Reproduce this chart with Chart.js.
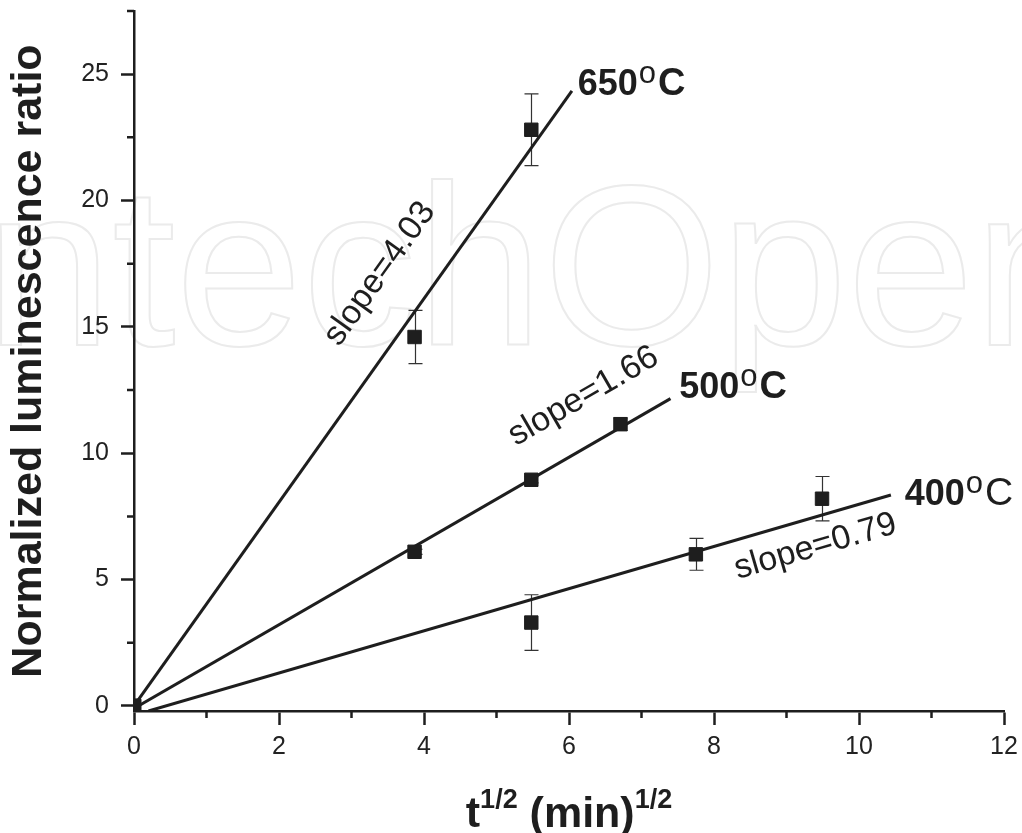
<!DOCTYPE html>
<html>
<head>
<meta charset="utf-8">
<script src="https://cdn.jsdelivr.net/npm/chart.js@4.4.1/dist/chart.umd.min.js"></script>
<style>
  html, body { margin: 0; padding: 0; background: #fff; }
  canvas { display: block; }
</style>
</head>
<body>
<canvas id="chart" width="1022" height="833"></canvas>
<script>
const FONT = "'Liberation Sans', Arial, Helvetica, sans-serif";
const INK = '#1e1e1e';

// t^1/2 in min^1/2, luminescence ratio, and +/- error per anneal temperature
const t650 = [0, 3.87, 5.48];
const r650 = [0, 14.6, 22.8];
const e650 = [0, 1.05, 1.42];

const t500 = [0, 3.87, 5.48, 6.71];
const r500 = [0, 6.1, 8.95, 11.15];
const e500 = [0, 0.1, 0.12, 0.25];

const t400 = [0, 5.48, 7.75, 9.49];
const r400 = [0, 3.3, 6.0, 8.2];
const e400 = [0, 1.1, 0.63, 0.88];

// linear fits, end points of each drawn segment
const fit650 = [[0, 0], [6.04, 24.34]];
const fit500 = [[0, -0.1], [7.4, 12.16]];
const fit400 = [[0.2, -0.2], [10.44, 8.35]];

const xMajor = [0, 2, 4, 6, 8, 10, 12];
const xMinor = [1, 3, 5, 7, 9, 11];
const yMajor = [0, 5, 10, 15, 20, 25];
const yMinor = [2.5, 7.5, 12.5, 17.5, 22.5, 27.5];

const temps = ['650', '500', '400'];
const slopes = ['slope=4.03', 'slope=1.66', 'slope=0.79'];

const pts = (xs, ys) => xs.map((x, i) => ({ x, y: ys[i] }));
const seg = f => f.map(([x, y]) => ({ x, y }));

const series = [
  { t: t650, r: r650, e: e650, fit: fit650 },
  { t: t500, r: r500, e: e500, fit: fit500 },
  { t: t400, r: r400, e: e400, fit: fit400 },
];

// where the temperature tags and slope notes sit (data units)
const tagPos = [[6.12, 24.17], [7.52, 12.2], [10.63, 7.96]];
const notePos = [[3.39, 17.1], [6.2, 12.25], [9.4, 6.3]];

const datasets = [];
series.forEach(s => {
  datasets.push({
    type: 'scatter',
    data: pts(s.t, s.r),
    order: 0,
    pointStyle: 'rect',
    pointRadius: 9.5,
    pointBackgroundColor: INK,
    pointBorderColor: INK,
    pointBorderWidth: 1,
    errors: s.e,
  });
  datasets.push({
    type: 'line',
    data: seg(s.fit),
    order: 1,
    borderColor: INK,
    borderWidth: 3,
    pointRadius: 0,
    fill: false,
  });
});

// ── background watermark ─────────────────────────────────────────────────────
const watermark = {
  id: 'watermark',
  beforeDraw(chart) {
    const ctx = chart.ctx;
    ctx.save();
    ctx.font = `228px ${FONT}`;
    ctx.strokeStyle = '#ebebeb';
    ctx.lineWidth = 2;
    ctx.strokeText('IntechOpen', -78, 345);
    ctx.restore();
  }
};

// ── error bars under the markers ─────────────────────────────────────────────
const errorBars = {
  id: 'errorBars',
  beforeDatasetsDraw(chart) {
    const { ctx, scales: { x, y } } = chart;
    ctx.save();
    ctx.strokeStyle = '#333';
    ctx.lineWidth = 1.2;
    chart.data.datasets.forEach(ds => {
      if (!ds.errors) return;
      ds.data.forEach((p, i) => {
        const err = ds.errors[i];
        if (!err) return;
        const px = Math.round(x.getPixelForValue(p.x)) + 0.5;
        const top = y.getPixelForValue(p.y + err);
        const bot = y.getPixelForValue(p.y - err);
        ctx.beginPath();
        ctx.moveTo(px, top); ctx.lineTo(px, bot);
        ctx.moveTo(px - 7, top); ctx.lineTo(px + 7, top);
        ctx.moveTo(px - 7, bot); ctx.lineTo(px + 7, bot);
        ctx.stroke();
      });
    });
    ctx.restore();
  }
};

// ── minor ticks, labels and the x title with superscripts ────────────────────
const extras = {
  id: 'extras',
  afterDraw(chart) {
    const { ctx, chartArea, scales: { x, y } } = chart;
    ctx.save();
    ctx.strokeStyle = INK;
    ctx.lineWidth = 2.5;
    ctx.beginPath();
    xMinor.forEach(v => {
      const px = x.getPixelForValue(v);
      ctx.moveTo(px, chartArea.bottom); ctx.lineTo(px, chartArea.bottom + 7);
    });
    yMinor.forEach(v => {
      const py = y.getPixelForValue(v);
      ctx.moveTo(chartArea.left, py); ctx.lineTo(chartArea.left - 7, py);
    });
    ctx.stroke();

    ctx.fillStyle = INK;
    ctx.textBaseline = 'alphabetic';
    ctx.textAlign = 'left';

    // temperature tags: number, raised "o", then C
    temps.forEach((num, i) => {
      let cx = x.getPixelForValue(tagPos[i][0]);
      const cy = y.getPixelForValue(tagPos[i][1]);
      const boldUnit = i < 2;
      ctx.font = `bold 36px ${FONT}`;
      ctx.fillText(num, cx, cy);
      cx += ctx.measureText(num).width + 1;
      ctx.font = `31px ${FONT}`;
      ctx.fillText('o', cx, cy - 12);
      cx += ctx.measureText('o').width + 2;
      ctx.font = `${boldUnit ? 'bold 38px' : '39px'} ${FONT}`;
      ctx.fillText('C', cx, cy);
    });

    // slope notes, turned along their fit lines
    ctx.font = `34px ${FONT}`;
    ctx.textAlign = 'center';
    ctx.textBaseline = 'middle';
    slopes.forEach((txt, i) => {
      const f = series[i].fit;
      const dx = x.getPixelForValue(f[1][0]) - x.getPixelForValue(f[0][0]);
      const dy = y.getPixelForValue(f[1][1]) - y.getPixelForValue(f[0][1]);
      ctx.save();
      ctx.translate(x.getPixelForValue(notePos[i][0]), y.getPixelForValue(notePos[i][1]));
      ctx.rotate(Math.atan2(dy, dx));
      ctx.fillText(txt, 0, 0);
      ctx.restore();
    });

    // x axis title: t^1/2 (min)^1/2
    const big = `bold 43px ${FONT}`, sup = `bold 27px ${FONT}`;
    const parts = [['t', big, 0], ['1/2', sup, -19], [' (min)', big, 0], ['1/2', sup, -19]];
    let w = 0;
    parts.forEach(([s, f]) => { ctx.font = f; w += ctx.measureText(s).width; });
    let tx = (chartArea.left + chartArea.right) / 2 - w / 2;
    ctx.textAlign = 'left';
    ctx.textBaseline = 'alphabetic';
    parts.forEach(([s, f, dyy]) => {
      ctx.font = f;
      ctx.fillText(s, tx, 827 + dyy);
      tx += ctx.measureText(s).width;
    });
    ctx.restore();
  }
};

new Chart(document.getElementById('chart'), {
  data: { datasets },
  options: {
    responsive: false,
    animation: false,
    layout: { padding: { top: 11, right: 18, left: 0, bottom: 0 } },
    plugins: { legend: { display: false }, tooltip: { enabled: false } },
    scales: {
      x: {
        type: 'linear',
        min: 0,
        max: 12,
        afterBuildTicks: s => { s.ticks = xMajor.map(v => ({ value: v })); },
        afterFit: s => { s.height = 122; s.paddingLeft = 0; s.paddingRight = 0; },
        border: { display: true, color: INK, width: 2.5 },
        grid: { drawOnChartArea: false, drawTicks: true, tickLength: 14, tickWidth: 2.5, tickColor: INK },
        ticks: { font: { family: FONT, size: 25 }, color: '#222', padding: 7, maxRotation: 0 },
      },
      y: {
        type: 'linear',
        min: -0.2,
        max: 27.5,
        afterBuildTicks: s => { s.ticks = yMajor.map(v => ({ value: v })); },
        afterFit: s => { s.width = 134; s.paddingTop = 0; s.paddingBottom = 0; },
        border: { display: true, color: INK, width: 2.5 },
        grid: { drawOnChartArea: false, drawTicks: true, tickLength: 13, tickWidth: 2.5, tickColor: INK },
        ticks: { font: { family: FONT, size: 25 }, color: '#222', padding: 12 },
        title: {
          display: true,
          text: 'Normalized luminescence ratio',
          font: { family: FONT, size: 43, weight: 'bold' },
          color: INK,
          padding: { top: 3, bottom: 0 },
        },
      },
    },
  },
  plugins: [watermark, errorBars, extras],
});
</script>
</body>
</html>
